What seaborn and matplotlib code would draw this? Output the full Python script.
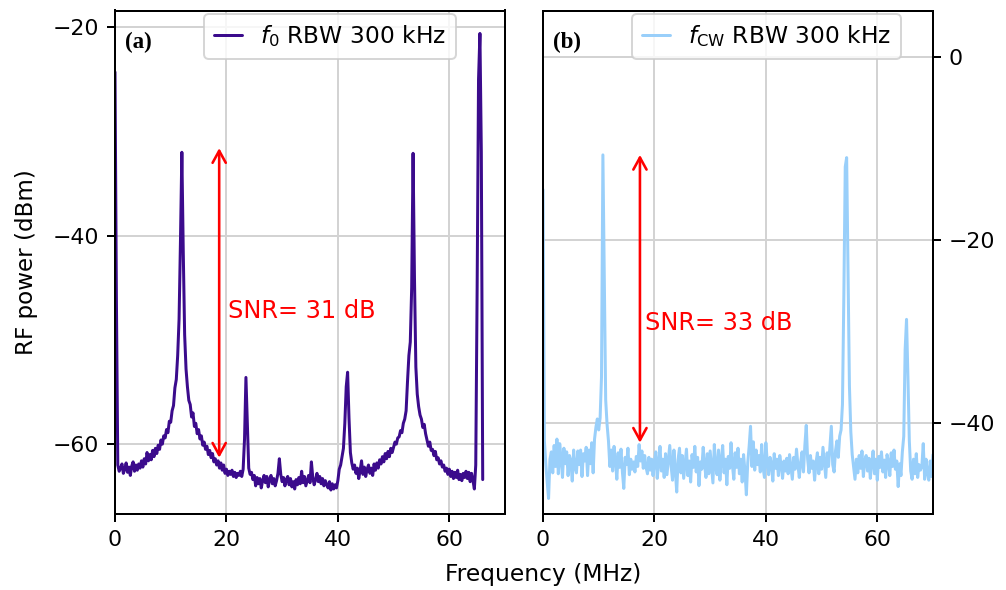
import numpy as np
import pandas as pd
import matplotlib
matplotlib.use("Agg")
import matplotlib.pyplot as plt
import seaborn as sns

# ---------------- data ----------------
# panel (a): f0, frequency grid 0 .. 66.0 MHz in 0.25 MHz steps
f0_start, f0_step = 0.0, 0.25
f0_power = [
    -24.3, -46.0, -62.0, -62.6,
    -62.3, -61.9, -62.8, -62.4,
    -61.8, -62.7, -62.2, -63.0,
    -62.1, -61.7, -62.6, -62.0,
    -62.5, -61.9, -62.3, -61.6,
    -62.2, -61.4, -61.9, -60.8,
    -61.6, -61.0, -61.5, -60.6,
    -61.2, -60.4, -60.9, -60.1,
    -60.5, -59.6, -60.0, -59.2,
    -59.4, -58.6, -58.9, -57.8,
    -57.9, -56.8, -56.3, -54.6,
    -53.8, -51.5, -48.0, -40.5,
    -32.0, -41.5, -49.5, -52.8,
    -54.5, -55.8, -56.2, -57.4,
    -57.0, -58.3, -58.0, -59.0,
    -58.6, -59.5, -59.2, -60.1,
    -59.8, -60.5, -60.2, -61.0,
    -60.6, -61.3, -60.9, -61.7,
    -61.4, -62.0, -61.6, -62.3,
    -61.8, -62.5, -62.0, -62.8,
    -62.4, -63.0, -62.6, -62.9,
    -62.5, -63.1, -62.7, -63.2,
    -62.8, -63.0, -62.6, -63.1,
    -62.4, -59.5, -53.6, -58.0,
    -62.3, -62.9, -62.7, -63.4,
    -63.0, -64.0, -63.2, -63.8,
    -63.3, -64.2, -63.5, -63.0,
    -63.7, -63.1, -64.1, -63.4,
    -63.0, -63.8, -63.3, -64.0,
    -63.5, -62.8, -61.4, -62.9,
    -63.6, -63.2, -64.0, -63.4,
    -63.1, -63.9, -63.3, -64.1,
    -63.6, -64.3, -63.4, -63.9,
    -63.2, -63.8, -62.6, -63.7,
    -63.1, -64.0, -63.5, -63.0,
    -63.7, -61.7, -63.2, -63.9,
    -63.4, -62.8, -63.6, -63.1,
    -63.8, -63.3, -64.0, -63.5,
    -63.9, -64.2, -63.6, -64.4,
    -63.8, -64.3, -63.9, -64.2,
    -63.5, -62.4, -62.0, -61.2,
    -60.4, -58.0, -54.5, -53.1,
    -57.5, -60.8, -61.8, -62.4,
    -62.0, -62.8, -62.3, -63.3,
    -62.5, -61.6, -62.9, -62.2,
    -63.1, -62.4, -62.0, -62.8,
    -62.3, -63.0, -61.9, -62.5,
    -61.8, -62.3, -61.5, -61.9,
    -61.2, -61.7, -60.9, -61.4,
    -60.7, -61.2, -60.4, -60.8,
    -60.3, -59.8, -60.0, -59.4,
    -59.3, -58.7, -58.9, -58.0,
    -57.6, -56.8, -54.0, -51.5,
    -50.2, -45.0, -32.1, -44.0,
    -52.6, -55.2, -56.4, -57.2,
    -57.6, -58.4, -58.1, -59.0,
    -59.6, -60.2, -59.8, -60.6,
    -60.5, -61.1, -60.7, -61.5,
    -61.3, -61.9, -61.6, -62.2,
    -62.0, -62.6, -62.3, -62.9,
    -62.4, -63.1, -62.6, -63.3,
    -62.7, -63.2, -62.5, -63.4,
    -62.9, -63.5, -62.8, -63.2,
    -62.6, -63.3, -62.7, -63.6,
    -62.8, -63.5, -64.3, -62.0,
    -45.0, -25.0, -20.6, -32.0,
    -63.4,
]

# panel (b): fCW, frequency grid 0 .. 70 MHz in 0.25 MHz steps
fcw_start, fcw_step = 0.0, 0.25
fcw_power = [
    -14.5, -42.0, -44.5, -46.5,
    -48.3, -44.0, -43.2, -45.5,
    -42.5, -44.8, -41.8, -45.6,
    -42.3, -44.0, -46.0, -42.8,
    -44.5, -43.2, -45.8, -43.6,
    -44.2, -46.4, -43.0, -44.9,
    -45.5, -43.1, -44.6, -43.0,
    -45.9, -43.4, -44.2, -42.7,
    -45.8, -43.0, -44.5, -42.2,
    -45.5, -41.8, -40.5, -39.6,
    -40.8, -39.5, -35.0, -10.7,
    -24.0, -37.5, -40.2, -42.0,
    -44.8, -43.0, -45.3, -42.6,
    -44.1, -46.2, -43.3, -44.9,
    -42.9, -45.4, -47.2, -43.8,
    -44.6, -42.8, -45.7, -44.0,
    -45.1, -44.3, -45.4, -43.7,
    -44.8, -42.4, -44.2, -43.1,
    -45.0, -43.6, -44.9, -45.6,
    -43.8, -45.2, -44.0, -45.8,
    -44.3, -43.2, -46.1, -44.5,
    -42.6, -45.3, -44.0, -46.0,
    -43.4, -45.7, -44.1, -42.5,
    -44.8, -46.3, -43.0, -45.2,
    -47.6, -44.0, -42.8, -45.5,
    -43.6, -46.1, -44.5, -42.9,
    -45.8, -44.2, -46.5, -43.5,
    -44.9, -42.6, -45.4, -43.8,
    -46.9, -44.3, -45.1, -42.7,
    -44.6, -46.0, -43.4, -45.6,
    -43.1, -44.8, -46.6, -42.4,
    -44.9, -45.7, -43.0, -46.3,
    -44.1, -42.5, -45.5, -44.0,
    -46.8, -43.7, -45.0, -42.2,
    -44.7, -46.2, -43.3, -44.9,
    -42.8, -45.6, -44.0, -46.5,
    -43.5, -45.3, -47.9, -44.4,
    -42.6, -40.4, -44.8, -42.1,
    -45.2, -43.0, -44.6, -43.6,
    -45.4, -42.4, -44.9, -46.0,
    -42.2, -44.3, -45.7, -43.8,
    -44.5, -46.4, -43.4, -45.0,
    -44.0, -45.8, -43.6, -44.7,
    -46.1, -44.2, -45.3, -43.9,
    -45.6, -43.5, -44.8, -46.2,
    -43.8, -45.1, -42.9, -44.6,
    -46.0, -44.3, -43.2, -45.4,
    -42.5, -40.3, -44.0, -45.5,
    -43.6, -45.0, -44.2, -46.3,
    -44.4, -43.3, -45.6, -43.8,
    -45.1, -42.7, -44.4, -46.0,
    -43.3, -44.8, -42.6, -40.4,
    -44.6, -45.4, -43.1, -42.0,
    -43.8, -41.5, -40.8, -38.0,
    -26.0, -12.0, -11.0, -24.0,
    -36.0, -41.0, -43.5, -44.8,
    -46.2, -44.0, -45.5, -43.6,
    -45.0, -43.1, -45.9, -44.2,
    -43.6, -45.3, -43.9, -46.1,
    -44.4, -43.1, -45.6, -44.0,
    -46.3, -43.7, -44.9, -43.2,
    -45.4, -44.1, -46.0, -43.5,
    -44.3, -45.8, -43.3, -44.8,
    -43.0, -45.1, -44.2, -47.0,
    -44.5, -45.8, -43.2, -41.5,
    -32.0, -28.7, -35.0, -42.0,
    -45.3, -46.2, -44.0, -45.6,
    -43.4, -46.0, -44.6, -45.2,
    -44.8, -42.3, -46.2, -44.0,
    -45.5, -46.3, -44.2, -45.9,
    -43.5,
]

labels = [r"$f_0$ RBW 300 kHz", r"$f_{\mathrm{CW}}$ RBW 300 kHz"]
panel_tags = ["(a)", "(b)"]
snr_texts = ["SNR= 31 dB", "SNR= 33 dB"]
snr_arrows = [(18.7, -31.6, -61.3), (17.4, -10.7, -42.2)]  # x, top, bottom
snr_text_pos = [(20.2, -47.2), (18.3, -29.1)]
xticks = [0, 20, 40, 60]
yticks_a = [-20, -40, -60]
yticks_b = [0, -20, -40]

f0_freq = f0_start + f0_step * np.arange(len(f0_power))
fcw_freq = fcw_start + fcw_step * np.arange(len(fcw_power))
df_a = pd.DataFrame({"freq": f0_freq, "power": f0_power})
df_b = pd.DataFrame({"freq": fcw_freq, "power": fcw_power})

# ---------------- style ----------------
sns.set_style("ticks")
plt.rcParams["font.family"] = ["DejaVu Sans"]
plt.rcParams["text.color"] = "black"
plt.rcParams["axes.labelcolor"] = "black"
plt.rcParams["axes.linewidth"] = 1.0
plt.rcParams["xtick.labelsize"] = 11
plt.rcParams["ytick.labelsize"] = 11
plt.rcParams["axes.edgecolor"] = "black"
plt.rcParams["xtick.color"] = "black"
plt.rcParams["ytick.color"] = "black"

W, H, DPI = 1006, 590, 144
fig = plt.figure(figsize=(W / DPI, H / DPI), dpi=DPI)

def frac_box(l, r, t, b):
    return [l / W, 1 - b / H, (r - l) / W, (b - t) / H]

ax1 = fig.add_axes(frac_box(115, 505, 10.5, 514))
ax2 = fig.add_axes(frac_box(543, 933, 10.5, 514))

colors = ["#3b0b8c", "#99cffa"]

sns.lineplot(data=df_a, x="freq", y="power", ax=ax1, color=colors[0], lw=1.5,
             estimator=None, sort=False, label=labels[0])
sns.lineplot(data=df_b, x="freq", y="power", ax=ax2, color=colors[1], lw=1.5,
             estimator=None, sort=False, label=labels[1])

for ax, yt, tag, txt, arr, tp in zip(
        [ax1, ax2], [yticks_a, yticks_b], panel_tags, snr_texts, snr_arrows, snr_text_pos):
    ax.set_xlim(0, 70)
    ax.set_xticks(xticks)
    ax.set_yticks(yt)
    ax.grid(True, color="#d3d3d3", lw=1.0)
    ax.set_axisbelow(True)
    ax.set_xlabel("")
    ax.set_ylabel("")
    ax.tick_params(length=4, width=1.0, pad=4, colors="black")
    for s in ax.spines.values():
        s.set_visible(True)
        s.set_color("black")
        s.set_linewidth(1.0)
    x, ytop, ybot = arr
    ax.annotate("", xy=(x, ytop), xytext=(x, ybot),
                arrowprops=dict(arrowstyle="<->,head_length=0.4,head_width=0.22",
                                color="red", lw=1.3, shrinkA=0, shrinkB=0,
                                mutation_scale=15))
    ax.text(tp[0], tp[1], txt, color="red", fontsize=12, ha="left", va="center")
    ax.text(0.026, 0.958, tag, transform=ax.transAxes, ha="left", va="top",
            fontsize=11.5, fontweight="bold", family="Liberation Serif", color="black")
    leg = ax.legend(loc="upper left", bbox_to_anchor=(0.22, 1.0), borderaxespad=0.15,
                    fontsize=11.7, handlelength=1.2, handletextpad=0.8,
                    frameon=True, framealpha=0.8, edgecolor="#cccccc", fancybox=True)
    for t in leg.get_texts():
        t.set_color("black")

ax1.set_ylim(-66.7, -18.4)
ax2.set_ylim(-50.0, 5.1)
ax2.yaxis.tick_right()
ax2.yaxis.set_label_position("right")

ax1.set_ylabel("RF power (dBm)", fontsize=11.5, labelpad=7, color="black")
fig.text(543 / W, 1 - 574 / H, "Frequency (MHz)", ha="center", va="center",
         fontsize=11.7, color="black")

fig.savefig("out.png", dpi=DPI)
